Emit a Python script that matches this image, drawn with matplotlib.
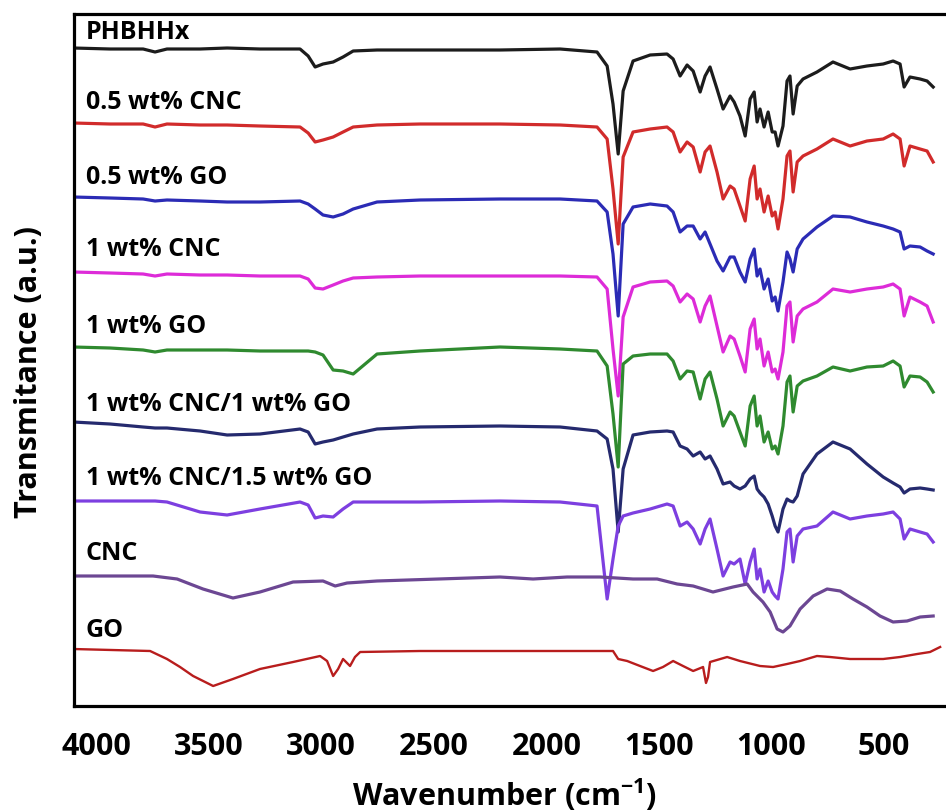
import matplotlib
matplotlib.use("Agg")
import matplotlib.pyplot as plt

plt.rcParams['font.family'] = ['Open Sans', 'DejaVu Sans']
plt.rcParams['mathtext.fontset'] = 'custom'
plt.rcParams['mathtext.bf'] = 'Open Sans:bold'
plt.rcParams['mathtext.rm'] = 'Open Sans'
plt.rcParams['mathtext.default'] = 'bf'

# wavenumber grid shared by the PHBHHx based films (cm-1)
wn = [4102, 3938, 3791, 3738, 3685, 3538, 3418, 3272, 3094, 3058,
      3027, 2992, 2947, 2903, 2858, 2752, 2561, 2206, 1939, 1775,
      1730, 1704, 1681, 1659, 1615, 1539, 1464, 1437, 1406, 1375,
      1348, 1317, 1295, 1273, 1242, 1215, 1184, 1166, 1140, 1117,
      1095, 1077, 1064, 1051, 1033, 1015, 997, 984, 971, 949,
      931, 918, 904, 886, 860, 798, 727, 651, 576, 504,
      460, 429, 411, 385, 340, 309, 282]

# stacked spectra, offset downwards (a.u.)
phbhhx = [49, 50, 50, 53, 50, 50, 49, 50, 50, 57,
          68, 65, 63, 58, 52, 51, 51, 51, 50, 53,
          67, 105, 155, 92, 62, 56, 55, 60, 77, 66,
          72, 93, 77, 68, 90, 110, 97, 103, 117, 137,
          100, 93, 123, 110, 128, 113, 133, 133, 147, 127,
          82, 77, 115, 87, 80, 73, 63, 70, 67, 65,
          62, 65, 88, 78, 80, 82, 88]
cnc05 = [124, 125, 125, 128, 125, 126, 126, 127, 128, 134,
         143, 141, 138, 133, 128, 126, 125, 125, 126, 128,
         140, 190, 245, 158, 133, 130, 128, 133, 153, 143,
         148, 173, 153, 147, 173, 200, 187, 190, 207, 222,
         180, 167, 200, 190, 213, 197, 217, 213, 230, 200,
         157, 152, 193, 163, 157, 150, 140, 147, 142, 140,
         135, 140, 167, 147, 150, 152, 163]
go05 = [198, 199, 200, 202, 201, 202, 203, 203, 202, 205,
        210, 216, 218, 215, 210, 203, 201, 200, 200, 202,
        213, 255, 317, 225, 208, 205, 207, 213, 233, 227,
        227, 240, 233, 245, 262, 272, 258, 258, 273, 283,
        260, 250, 277, 270, 290, 280, 302, 298, 312, 283,
        253, 260, 273, 250, 240, 228, 217, 218, 223, 227,
        230, 233, 250, 247, 248, 252, 255]
cnc1 = [273, 274, 275, 277, 275, 276, 276, 277, 277, 280,
        289, 290, 286, 282, 279, 278, 277, 277, 277, 278,
        290, 350, 397, 318, 288, 283, 282, 287, 303, 295,
        300, 323, 307, 297, 327, 353, 337, 340, 357, 373,
        330, 320, 350, 340, 367, 353, 373, 370, 380, 353,
        307, 303, 343, 317, 310, 303, 290, 293, 290, 288,
        285, 290, 317, 298, 303, 307, 323]
go1 = [348, 349, 351, 353, 351, 351, 351, 352, 352, 352,
       353, 356, 371, 372, 375, 355, 352, 348, 350, 352,
       367, 415, 468, 365, 357, 355, 355, 362, 380, 372,
       373, 400, 380, 373, 400, 427, 413, 417, 433, 447,
       407, 397, 427, 417, 443, 433, 450, 447, 455, 427,
       383, 377, 413, 387, 382, 377, 368, 372, 368, 367,
       362, 367, 388, 377, 378, 383, 393]
cnc1_go1 = [423, 425, 428, 429, 429, 432, 436, 435, 430, 433,
            445, 443, 441, 438, 435, 430, 428, 427, 428, 432,
            440, 470, 533, 470, 436, 433, 432, 433, 447, 450,
            457, 453, 460, 457, 470, 485, 483, 487, 490, 487,
            480, 477, 490, 494, 498, 505, 517, 527, 533, 510,
            500, 502, 503, 497, 475, 455, 443, 450, 465, 478,
            484, 488, 494, 490, 489, 490, 491]
cnc1_go15 = [502, 502, 502, 502, 503, 513, 516, 510, 503, 506,
             519, 517, 518, 510, 503, 503, 503, 502, 503, 507,
             600, 560, 527, 517, 514, 510, 505, 507, 527, 523,
             530, 545, 530, 520, 550, 577, 563, 565, 560, 585,
             563, 550, 580, 570, 593, 582, 593, 597, 600, 570,
             533, 530, 563, 537, 530, 527, 513, 520, 517, 515,
             513, 520, 540, 530, 533, 535, 543]

# neat fillers
wn_cnc = [4102, 3747, 3640, 3525, 3392, 3272, 3125, 2992, 2938, 2885,
          2752, 2206, 2059, 1908, 1761, 1615, 1508, 1419, 1348, 1260,
          1171, 1108, 1082, 1038, 1006, 975, 949, 918, 873, 815,
          753, 695, 638, 576, 518, 460, 398, 340, 282]
cnc = [577, 577, 580, 590, 599, 593, 583, 582, 587, 584,
       582, 578, 580, 578, 578, 580, 580, 585, 587, 593,
       588, 585, 593, 603, 613, 630, 633, 627, 610, 597,
       590, 592, 600, 608, 617, 623, 622, 618, 617]
wn_go = [4102, 3760, 3685, 3627, 3569, 3480, 3392, 3272, 3125, 3005,
         2974, 2947, 2925, 2903, 2872, 2850, 2827, 2561, 2206, 1908,
         1704, 1681, 1641, 1584, 1526, 1482, 1437, 1393, 1348, 1304,
         1291, 1282, 1273, 1197, 1140, 1051, 993, 931, 873, 798,
         740, 651, 576, 504, 429, 353, 296, 251]
go = [650, 652, 660, 668, 677, 687, 680, 670, 663, 657,
      662, 677, 670, 660, 667, 658, 653, 652, 652, 652,
      652, 660, 662, 667, 672, 668, 662, 667, 672, 668,
      684, 678, 663, 658, 662, 667, 668, 665, 662, 657,
      658, 660, 660, 660, 658, 655, 653, 648]

labels = ['PHBHHx', '0.5 wt% CNC', '0.5 wt% GO', '1 wt% CNC', '1 wt% GO',
          '1 wt% CNC/1 wt% GO', '1 wt% CNC/1.5 wt% GO', 'CNC', 'GO']
xs = [wn, wn, wn, wn, wn, wn, wn, wn_cnc, wn_go]
ys = [phbhhx, cnc05, go05, cnc1, go1, cnc1_go1, cnc1_go15, cnc, go]
colors = ['#1c1c1c', '#d12b2b', '#2b2bb5', '#dd2bd8', '#2f8a2f',
          '#252a6e', '#7d3fe0', '#6c4793', '#b81d1d']
widths = [2.3, 2.3, 2.3, 2.3, 2.3, 2.3, 2.3, 2.3, 1.7]
label_gap = [10, 15, 14, 17, 15, 12, 17, 17, 13]

ticks = [4000, 3500, 3000, 2500, 2000, 1500, 1000, 500]

fig = plt.figure(figsize=(9.46, 8.12), dpi=100)
ax = fig.add_axes([74 / 946, 105 / 812, 872 / 946, 692 / 812])

for x, y, c, lw, lab, gap in zip(xs, ys, colors, widths, labels, label_gap):
    ax.plot(x, y, color=c, lw=lw, solid_joinstyle='round')
    ax.text(4045, y[0] - gap, lab, fontsize=18, fontweight='bold',
            va='baseline', ha='left')

ax.set_xlim(4098, 225)
ax.set_ylim(707, 15)
ax.set_xticks(ticks)
ax.set_xticklabels([str(t) for t in ticks], fontsize=22, fontweight='bold')
ax.set_yticks([])
ax.tick_params(axis='x', length=0, pad=18)
for side in ['left', 'top', 'bottom']:
    ax.spines[side].set_linewidth(2.3)
ax.spines['right'].set_visible(False)

fig.text(505 / 946, 1 - 795 / 812, 'Wavenumber (cm$^{-1}$)', fontsize=22,
         fontweight='bold', ha='center', va='center')
fig.text(29 / 946, 1 - 372 / 812, 'Transmitance (a.u.)', fontsize=22,
         fontweight='bold', rotation=90, ha='center', va='center')

fig.savefig('out.png', dpi=100)
